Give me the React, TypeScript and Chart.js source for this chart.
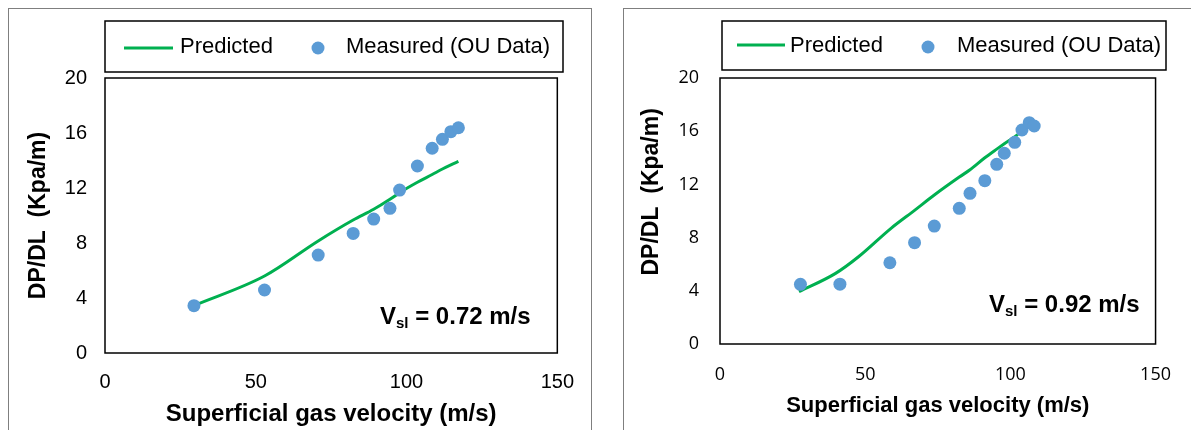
import React, { useEffect, useRef } from "react";
import { Chart, registerables } from "chart.js";

Chart.register(...registerables);

// ---------- data ----------
const xTickValues = [0, 50, 100, 150];
const yTickValues = [0, 4, 8, 12, 16, 20];
const seriesNames = ["Predicted", "Measured (OU Data)"];
const xAxisTitle = "Superficial gas velocity (m/s)";
const yAxisTitle = "DP/DL  (Kpa/m)";

// Left panel: Vsl = 0.72 m/s
const leftMeasuredX = [29.5, 52.9, 70.7, 82.3, 89.1, 94.5, 97.7, 103.6, 108.5, 111.9, 114.7, 117.2];
const leftMeasuredY = [3.44, 4.58, 7.12, 8.7, 9.74, 10.52, 11.85, 13.6, 14.89, 15.54, 16.1, 16.38];
const leftPredictedX = [29.5, 52.9, 70.7, 82.3, 89.1, 94.5, 97.7, 103.6, 108.5, 111.9, 114.7, 117.2];
const leftPredictedY = [3.45, 5.6, 8.15, 9.67, 10.45, 11.18, 11.66, 12.42, 12.98, 13.38, 13.68, 13.93];
const leftVslValue = "0.72 m/s";

// Right panel: Vsl = 0.92 m/s
const rightMeasuredX = [27.7, 41.3, 58.5, 67.0, 73.8, 82.4, 86.1, 91.2, 95.3, 97.9, 101.5, 104.0, 106.5, 108.2];
const rightMeasuredY = [4.49, 4.5, 6.11, 7.62, 8.87, 10.2, 11.33, 12.28, 13.51, 14.34, 15.16, 16.09, 16.64, 16.39];
const rightPredictedX = [27.2, 39.8, 47.7, 58.9, 67.0, 73.8, 82.4, 86.1, 91.2, 95.3, 97.9, 102.6];
const rightPredictedY = [3.93, 5.31, 6.56, 8.7, 10.05, 11.2, 12.55, 13.1, 14.0, 14.65, 15.05, 15.75];
const rightVslValue = "0.92 m/s";

const GREEN = "#00B050";
const BLUE = "#5B9BD5";
const ARIAL = '"Liberation Sans", Arial, sans-serif';
const CALIBRI = '"Open Sans", "Noto Sans", sans-serif';

const toPoints = (xs: number[], ys: number[]) => xs.map((x, i) => ({ x, y: ys[i] }));

type PanelCfg = {
  width: number;
  height: number;
  padRight: number;
  chartBottom: number;
  tickFont: { family: string; size: number };
  tickPadX: number;
  tickPadY: number;
  yTitleText: string;
  yTitlePadTop: number;
  xTitleSize: number;
  xTitlePadBottom: number;
  legendBox: { x: number; y: number; w: number; h: number };
  lineX0: number;
  lineX1: number;
  lineY: number;
  text0X: number;
  text1X: number;
  textY: number;
  dotX: number;
  dotY: number;
  annX: number;
  annY: number;
  vsl: string;
  measured: { x: number; y: number }[];
  predicted: { x: number; y: number }[];
};

function makeOverlay(cfg: PanelCfg) {
  return {
    id: "overlay",
    afterDraw(chart: any) {
      const ctx = chart.ctx as CanvasRenderingContext2D;
      const a = chart.chartArea;
      const ds = chart.data.datasets;
      ctx.save();
      ctx.strokeStyle = "#000";
      ctx.lineWidth = 1.5;
      ctx.strokeRect(a.left, a.top, a.right - a.left, a.bottom - a.top);
      const lb = cfg.legendBox;
      ctx.strokeRect(lb.x, lb.y, lb.w, lb.h);

      // legend entries
      ctx.strokeStyle = ds[0].borderColor;
      ctx.lineWidth = 3;
      ctx.beginPath();
      ctx.moveTo(cfg.lineX0, cfg.lineY);
      ctx.lineTo(cfg.lineX1, cfg.lineY);
      ctx.stroke();
      ctx.fillStyle = "#000";
      ctx.font = `22px ${ARIAL}`;
      ctx.textAlign = "left";
      ctx.textBaseline = "middle";
      ctx.fillText(ds[0].label, cfg.text0X, cfg.textY);
      ctx.fillStyle = ds[1].backgroundColor;
      ctx.beginPath();
      ctx.arc(cfg.dotX, cfg.dotY, 6.5, 0, Math.PI * 2);
      ctx.fill();
      ctx.fillStyle = "#000";
      ctx.fillText(ds[1].label, cfg.text1X, cfg.textY);

      // Vsl annotation
      ctx.textBaseline = "alphabetic";
      let x = cfg.annX;
      const y = cfg.annY;
      ctx.font = `bold 24px ${ARIAL}`;
      ctx.fillText("V", x, y);
      x += ctx.measureText("V").width;
      ctx.font = `bold 15px ${ARIAL}`;
      ctx.fillText("sl", x, y + 4);
      x += ctx.measureText("sl").width;
      ctx.font = `bold 24px ${ARIAL}`;
      ctx.fillText(" = " + cfg.vsl, x, y);
      ctx.restore();
    },
  };
}

function Panel({ cfg, style }: { cfg: PanelCfg; style: React.CSSProperties }) {
  const ref = useRef<HTMLCanvasElement | null>(null);
  useEffect(() => {
    if (!ref.current) return;
    const chart = new Chart(ref.current, {
      type: "scatter",
      data: {
        datasets: [
          {
            label: seriesNames[0],
            data: cfg.predicted,
            showLine: true,
            borderColor: GREEN,
            backgroundColor: GREEN,
            borderWidth: 3,
            pointRadius: 0,
            cubicInterpolationMode: "monotone",
            order: 1,
          } as any,
          {
            label: seriesNames[1],
            data: cfg.measured,
            showLine: false,
            backgroundColor: BLUE,
            borderColor: BLUE,
            borderWidth: 0,
            pointRadius: 6.5,
            order: 0,
          } as any,
        ],
      },
      options: {
        animation: false,
        responsive: false,
        maintainAspectRatio: false,
        layout: { padding: { left: 0, top: 70, right: cfg.padRight, bottom: 0 } },
        plugins: { legend: { display: false }, tooltip: { enabled: false } },
        scales: {
          x: {
            type: "linear",
            min: 0,
            max: 150,
            afterBuildTicks: (s: any) => {
              s.ticks = xTickValues.map((v) => ({ value: v }));
            },
            afterFit: (s: any) => {
              s.height = cfg.height - cfg.chartBottom;
            },
            grid: { display: false, drawTicks: false },
            border: { display: false },
            ticks: { color: "#000", font: cfg.tickFont, padding: cfg.tickPadX, maxRotation: 0 },
            title: {
              display: true,
              text: xAxisTitle,
              color: "#000",
              font: { family: ARIAL, size: cfg.xTitleSize, weight: "bold", lineHeight: 1.2 },
              padding: { top: 0, bottom: cfg.xTitlePadBottom },
            },
          },
          y: {
            type: "linear",
            min: 0,
            max: 20,
            afterBuildTicks: (s: any) => {
              s.ticks = yTickValues.map((v) => ({ value: v }));
            },
            afterFit: (s: any) => {
              s.width = 97;
            },
            grid: { display: false, drawTicks: false },
            border: { display: false },
            ticks: { color: "#000", font: cfg.tickFont, padding: cfg.tickPadY },
            title: {
              display: true,
              text: cfg.yTitleText,
              color: "#000",
              font: { family: ARIAL, size: 23, weight: "bold", lineHeight: 1.2 },
              padding: { top: cfg.yTitlePadTop, bottom: 0 },
            },
          },
        },
      },
      plugins: [makeOverlay(cfg)],
    } as any);
    return () => chart.destroy();
  }, [cfg]);
  return <canvas ref={ref} width={cfg.width} height={cfg.height} style={{ position: "absolute", ...style }} />;
}

const leftCfg: PanelCfg = {
  width: 583,
  height: 422,
  padRight: 28,
  chartBottom: 345,
  tickFont: { family: ARIAL, size: 20 },
  tickPadX: 17,
  tickPadY: 18,
  yTitleText: yAxisTitle,
  yTitlePadTop: 17,
  xTitleSize: 24,
  xTitlePadBottom: 1,
  legendBox: { x: 97, y: 13, w: 458, h: 51 },
  lineX0: 116,
  lineX1: 165,
  lineY: 40,
  text0X: 172,
  text1X: 338,
  textY: 39,
  dotX: 310,
  dotY: 40,
  annX: 372,
  annY: 316,
  vsl: leftVslValue,
  measured: toPoints(leftMeasuredX, leftMeasuredY),
  predicted: toPoints(leftPredictedX, leftPredictedY),
};

const rightCfg: PanelCfg = {
  width: 568,
  height: 422,
  padRight: 25,
  chartBottom: 336,
  tickFont: { family: CALIBRI, size: 18 },
  tickPadX: 20,
  tickPadY: 21,
  yTitleText: "      " + yAxisTitle,
  yTitlePadTop: 15,
  xTitleSize: 22,
  xTitlePadBottom: 11,
  legendBox: { x: 99, y: 13, w: 444, h: 49 },
  lineX0: 114,
  lineX1: 162,
  lineY: 37,
  text0X: 167,
  text1X: 334,
  textY: 38,
  dotX: 305,
  dotY: 39,
  annX: 366,
  annY: 304,
  vsl: rightVslValue,
  measured: toPoints(rightMeasuredX, rightMeasuredY),
  predicted: toPoints(rightPredictedX, rightPredictedY),
};

export default function App() {
  return (
    <div
      style={{
        position: "fixed",
        left: 0,
        top: 0,
        width: 1191,
        height: 430,
        overflow: "hidden",
        background: "#fff",
      }}
    >
      <div
        style={{
          position: "absolute",
          left: 8,
          top: 8,
          width: 584,
          height: 440,
          border: "1px solid #7f7f7f",
          boxSizing: "border-box",
        }}
      />
      <div
        style={{
          position: "absolute",
          left: 623,
          top: 8,
          width: 600,
          height: 440,
          border: "1px solid #7f7f7f",
          boxSizing: "border-box",
        }}
      />
      <Panel cfg={leftCfg} style={{ left: 8, top: 8 }} />
      <Panel cfg={rightCfg} style={{ left: 623, top: 8 }} />
    </div>
  );
}
